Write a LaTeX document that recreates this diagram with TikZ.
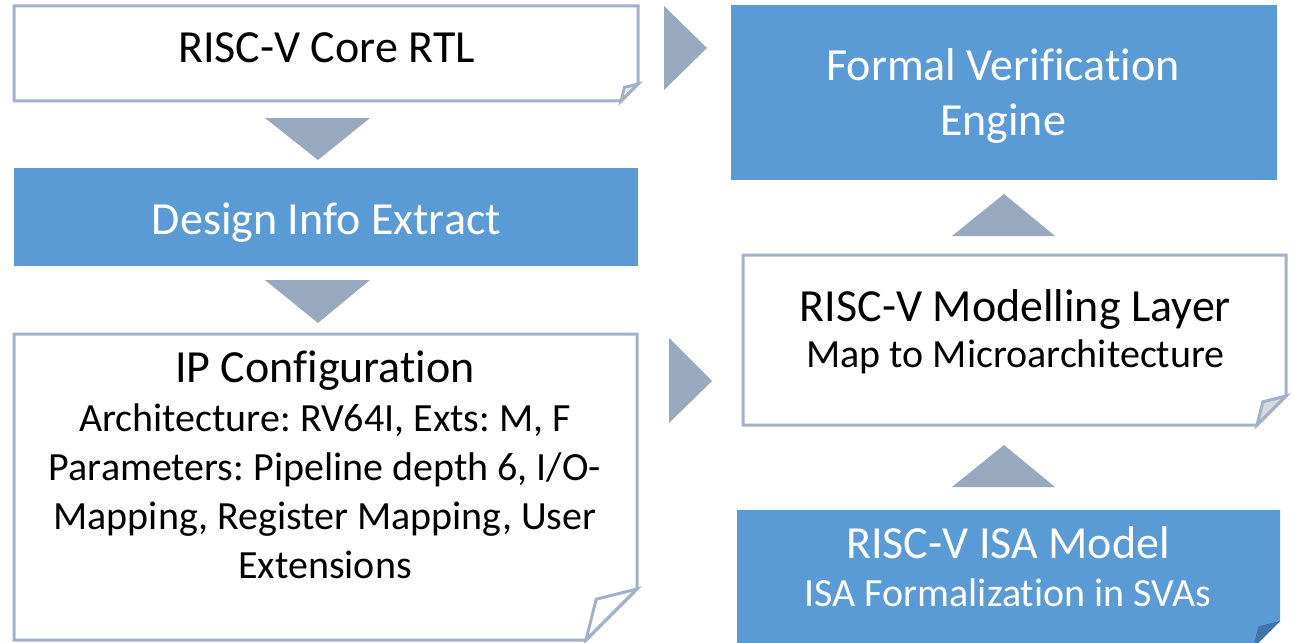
\documentclass[tikz,border=0pt]{standalone}
\usepackage{fontspec}
\setmainfont{Carlito}[Ligatures=CommonOff]
\frenchspacing
\usetikzlibrary{calc}

\definecolor{boxblue}{RGB}{91,155,213}
\definecolor{flapblue}{RGB}{64,118,172}
\definecolor{edgegray}{RGB}{162,177,200}
\definecolor{arrowgray}{RGB}{152,168,191}
\definecolor{flapgray}{RGB}{214,217,222}
\definecolor{flaplight}{RGB}{236,239,244}

\tikzset{
  box/.style={rectangle, inner sep=0pt, outer sep=0pt, draw=none},
  whitebody/.style={fill=white, draw=edgegray, line width=1.5pt, line join=miter},
  bluebody/.style={fill=boxblue},
  whiteflap/.style={fill=#1, draw=edgegray, line width=1.5pt, line join=miter},
  blueflap/.style={fill=flapblue},
  arrowtri/.style={fill=arrowgray},
  % anchored on the baseline of the last line
  label/.style={align=center, anchor=base, inner sep=0pt, outer sep=0pt},
  bigtext/.style={font=\fontsize{23}{27.5}\selectfont},
}

% rectangle with a folded bottom-right corner, built on a named node
% #1 node, #2 fold size, #3 body style, #4 flap style
\newcommand{\foldedbox}[4]{%
  \path[#3] (#1.north west) -- (#1.north east) -- ($(#1.south east)+(0,-#2)$)
    -- ($(#1.south east)+(-#2,0)$) -- (#1.south west) -- cycle;
  \path[#4] ($(#1.south east)+(0,-#2)$) -- ($(#1.south east)+({-0.8*#2},{-0.8*#2})$)
    -- ($(#1.south east)+(-#2,0)$) -- cycle;
}

\begin{document}
\begin{tikzpicture}[x=0.5pt,y=-0.5pt]
\useasboundingbox (0,0) rectangle (1294,642);

% boxes
\node[box, minimum width=312pt, minimum height=47.5pt] (rtl) at (326,53.5) {};
\node[box, minimum width=312pt, minimum height=49pt] (extract) at (326,217) {};
\node[box, minimum width=311.5pt, minimum height=153pt] (ipconf) at (325.5,487) {};
\node[box, minimum width=273pt, minimum height=87.5pt] (fve) at (1004,92.5) {};
\node[box, minimum width=271.5pt, minimum height=85pt] (model) at (1014.5,340) {};
\node[box, minimum width=271.5pt, minimum height=69pt] (isa) at (1008.5,579) {};

\foldedbox{rtl}{17}{whitebody}{whiteflap=flaplight}
\fill[bluebody] (extract.north west) rectangle (extract.south east);
\foldedbox{ipconf}{51}{whitebody}{whiteflap=white}
\fill[bluebody] (fve.north west) rectangle (fve.south east);
\foldedbox{model}{29}{whitebody}{whiteflap=flapgray}
\foldedbox{isa}{27}{bluebody}{blueflap}

% texts
\node[label, bigtext] (rtl-text) at (326.5,63) {RISC-V Core RTL};
\node[label, bigtext, text=white] (extract-text) at (326.5,234) {Design Info Extract};
\node[label, font=\fontsize{20}{24.5}\selectfont] (ipconf-text) at (325,578)
  {{\fontsize{23}{24.5}\selectfont IP Configuration}\\
   Architecture: RV64I, Exts: M, F\\
   Parameters: Pipeline depth 6, I/O-\\
   Mapping, Register Mapping, User\\
   Extensions};
\node[label, bigtext, text=white] (fve-text) at (1003,135)
  {Formal Verification\\Engine};
\node[label, font=\fontsize{20}{23}\selectfont] (model-text) at (1015.5,367)
  {{\fontsize{23}{23}\selectfont RISC-V Modelling Layer}\\Map to Microarchitecture};
\node[label, font=\fontsize{20}{24}\selectfont, text=white] (isa-text) at (1008,606)
  {{\fontsize{23}{24}\selectfont RISC-V ISA Model}\\ISA Formalization in SVAs};

% flow arrows
\fill[arrowtri] ($(rtl.south)+(-61,17)$) -- ($(rtl.south)+(44,17)$)
  -- ($(extract.north)+(-8,-8)$) -- cycle;
\fill[arrowtri] ($(extract.south)+(-61,14)$) -- ($(extract.south)+(44,14)$)
  -- ($(ipconf.north)+(-7.5,-11)$) -- cycle;
\fill[arrowtri] ($(rtl.east)+(26,-47.5)$) -- ($(rtl.east)+(26,36.5)$)
  -- ($(fve.west)+(-24,-44.5)$) -- cycle;
\fill[arrowtri] ($(ipconf.east)+(32,-149)$) -- ($(ipconf.east)+(32,-64)$)
  -- ($(model.west)+(-31,41)$) -- cycle;
\fill[arrowtri] ($(model.north)+(-62.5,-19)$) -- ($(model.north)+(40.5,-19)$)
  -- ($(fve.south)+(0,14)$) -- cycle;
\fill[arrowtri] ($(isa.north)+(-56.5,-23)$) -- ($(isa.north)+(46.5,-23)$)
  -- ($(model.south)+(-10.5,20)$) -- cycle;
\end{tikzpicture}
\end{document}
